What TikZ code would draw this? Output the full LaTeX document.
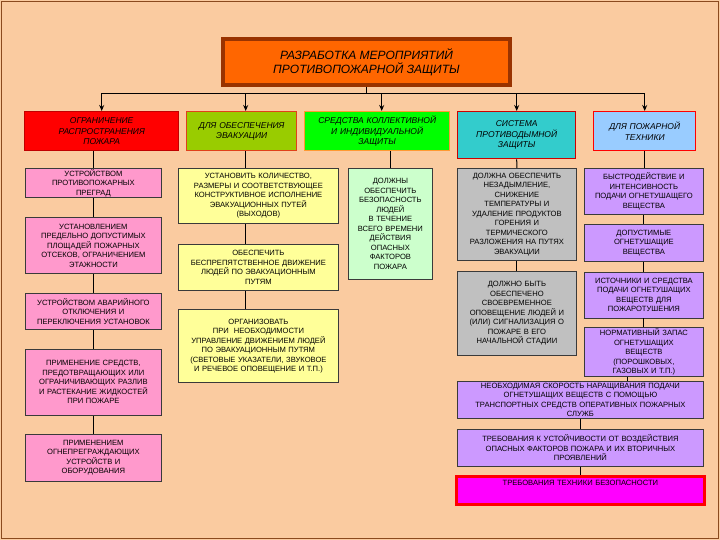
\documentclass[tikz,border=0pt]{standalone}
\usepackage{fontspec}
\setmainfont{Liberation Sans}
\usetikzlibrary{arrows.meta,positioning}
\definecolor{Peach}{HTML}{FACBA0}
\definecolor{Frame}{HTML}{8A4A1E}
\definecolor{TitleFill}{HTML}{FF6600}
\definecolor{TitleEdge}{HTML}{993300}
\definecolor{RedFill}{HTML}{FF0000}
\definecolor{RedEdge}{HTML}{C00000}
\definecolor{OliveFill}{HTML}{99CC00}
\definecolor{OliveEdge}{HTML}{E0401A}
\definecolor{LimeFill}{HTML}{00FF00}
\definecolor{LimeEdge}{HTML}{FF9933}
\definecolor{TealFill}{HTML}{33CCCC}
\definecolor{TealEdge}{HTML}{CC0000}
\definecolor{SkyFill}{HTML}{99CCFF}
\definecolor{SkyEdge}{HTML}{FF0000}
\definecolor{Pink}{HTML}{FF99CC}
\definecolor{Lemon}{HTML}{FFFF99}
\definecolor{Mint}{HTML}{CCFFCC}
\definecolor{Silver}{HTML}{C0C0C0}
\definecolor{Lilac}{HTML}{CC99FF}
\definecolor{Magenta}{HTML}{FF00FF}
\definecolor{Edge}{HTML}{3A3A3A}
\tikzset{
  topbox/.style={draw=TitleEdge, line width=4pt, fill=TitleFill, align=center,
    font=\fontsize{12}{14.5}\selectfont\itshape},
  catbox/.style 2 args={draw=#2, line width=1.4pt, fill=#1, align=center,
    inner sep=2pt, anchor=north west, font=\fontsize{8.5}{10.5}\selectfont\itshape},
  itembox/.style={draw=Edge, line width=0.8pt, fill=#1, align=center,
    inner xsep=2pt, inner ysep=1pt, font=\fontsize{7.6}{9.5}\selectfont},
  itembox/.default={white},
  link/.style={draw=black, line width=1pt},
  busarr/.style={draw=black, -{Stealth[length=6pt,width=5pt]}, line width=1pt},
}
\begin{document}
\begin{tikzpicture}[x=1pt, y=-1pt]
  \useasboundingbox (0,0) rectangle (720,540);
  \fill[Peach] (0,0) rectangle (720,540);
  \draw[Frame, line width=1.5pt] (1.5,1.5) rectangle (718.5,538.5);

  % title
  \node[topbox, minimum width=287pt, minimum height=46pt, anchor=north west]
    (razr) at (221,37.5) {РАЗРАБОТКА МЕРОПРИЯТИЙ\\ПРОТИВОПОЖАРНОЙ ЗАЩИТЫ};

  % first level
  \node[catbox={RedFill}{RedEdge}, text width=150pt, minimum height=39pt]
    (ogr) at (24,111) {ОГРАНИЧЕНИЕ\\РАСПРОСТРАНЕНИЯ\\ПОЖАРА};
  \node[catbox={OliveFill}{OliveEdge}, text width=106pt, minimum height=39pt]
    (evak) at (186,111) {ДЛЯ ОБЕСПЕЧЕНИЯ\\ЭВАКУАЦИИ};
  \node[catbox={LimeFill}{LimeEdge}, text width=141pt, minimum height=39pt]
    (sredst) at (304,111) {СРЕДСТВА КОЛЛЕКТИВНОЙ\\И ИНДИВИДУАЛЬНОЙ\\ЗАЩИТЫ};
  \node[catbox={TealFill}{TealEdge}, text width=114pt, minimum height=47pt]
    (dym) at (457,111) {СИСТЕМА\\ПРОТИВОДЫМНОЙ\\ЗАЩИТЫ};
  \node[catbox={SkyFill}{SkyEdge}, text width=98pt, minimum height=39pt]
    (tekh) at (593,111) {ДЛЯ ПОЖАРНОЙ\\ТЕХНИКИ};

  % column 1
  \node[itembox=Pink, text width=132pt, minimum height=27pt, anchor=north west]
    (ogr1) at (25,168) {УСТРОЙСТВОМ\\ПРОТИВОПОЖАРНЫХ\\ПРЕГРАД};
  \node[itembox=Pink, text width=132pt, minimum height=56pt, below=19pt of ogr1]
    (ogr2) {УСТАНОВЛЕНИЕМ\\ПРЕДЕЛЬНО ДОПУСТИМЫХ\\ПЛОЩАДЕЙ ПОЖАРНЫХ\\ОТСЕКОВ, ОГРАНИЧЕНИЕМ\\ЭТАЖНОСТИ};
  \node[itembox=Pink, text width=132pt, minimum height=36pt, below=19pt of ogr2]
    (ogr3) {УСТРОЙСТВОМ АВАРИЙНОГО\\ОТКЛЮЧЕНИЯ И\\ПЕРЕКЛЮЧЕНИЯ УСТАНОВОК};
  \node[itembox=Pink, text width=132pt, minimum height=66pt, below=19pt of ogr3]
    (ogr4) {ПРИМЕНЕНИЕ СРЕДСТВ,\\ПРЕДОТВРАЩАЮЩИХ ИЛИ\\ОГРАНИЧИВАЮЩИХ РАЗЛИВ\\И РАСТЕКАНИЕ ЖИДКОСТЕЙ\\ПРИ ПОЖАРЕ};
  \node[itembox=Pink, text width=132pt, minimum height=47pt, below=18pt of ogr4]
    (ogr5) {ПРИМЕНЕНИЕМ\\ОГНЕПРЕГРАЖДАЮЩИХ\\УСТРОЙСТВ И\\ОБОРУДОВАНИЯ};

  % column 2
  \node[itembox=Lemon, text width=156pt, minimum height=55pt, anchor=north west]
    (evak1) at (178,168) {УСТАНОВИТЬ КОЛИЧЕСТВО,\\РАЗМЕРЫ И СООТВЕТСТВУЮЩЕЕ\\КОНСТРУКТИВНОЕ ИСПОЛНЕНИЕ\\ЭВАКУАЦИОННЫХ ПУТЕЙ\\(ВЫХОДОВ)};
  \node[itembox=Lemon, text width=156pt, minimum height=46pt, below=20pt of evak1]
    (evak2) {ОБЕСПЕЧИТЬ\\БЕСПРЕПЯТСТВЕННОЕ ДВИЖЕНИЕ\\ЛЮДЕЙ ПО ЭВАКУАЦИОННЫМ\\ПУТЯМ};
  \node[itembox=Lemon, text width=156pt, minimum height=73pt, below=18.5pt of evak2]
    (evak3) {ОРГАНИЗОВАТЬ\\ПРИ\ \ НЕОБХОДИМОСТИ\\УПРАВЛЕНИЕ ДВИЖЕНИЕМ ЛЮДЕЙ\\ПО ЭВАКУАЦИОННЫМ ПУТЯМ\\(СВЕТОВЫЕ УКАЗАТЕЛИ, ЗВУКОВОЕ\\И РЕЧЕВОЕ ОПОВЕЩЕНИЕ И Т.П.)};

  % column 3
  \node[itembox=Mint, text width=80pt, minimum height=111pt, anchor=north west]
    (sredst1) at (348,168) {ДОЛЖНЫ\\ОБЕСПЕЧИТЬ\\БЕЗОПАСНОСТЬ\\ЛЮДЕЙ\\В ТЕЧЕНИЕ\\ВСЕГО ВРЕМЕНИ\\ДЕЙСТВИЯ\\ОПАСНЫХ\\ФАКТОРОВ\\ПОЖАРА};

  % column 4
  \node[itembox=Silver, text width=115pt, minimum height=92pt, anchor=north west]
    (dym1) at (457,168) {ДОЛЖНА ОБЕСПЕЧИТЬ\\НЕЗАДЫМЛЕНИЕ,\\СНИЖЕНИЕ\\ТЕМПЕРАТУРЫ И\\УДАЛЕНИЕ ПРОДУКТОВ\\ГОРЕНИЯ И\\ТЕРМИЧЕСКОГО\\РАЗЛОЖЕНИЯ НА ПУТЯХ\\ЭВАКУАЦИИ};
  \node[itembox=Silver, text width=115pt, minimum height=84pt, below=10pt of dym1]
    (dym2) {ДОЛЖНО БЫТЬ\\ОБЕСПЕЧЕНО\\СВОЕВРЕМЕННОЕ\\ОПОВЕЩЕНИЕ ЛЮДЕЙ И\\(ИЛИ) СИГНАЛИЗАЦИЯ О\\ПОЖАРЕ В ЕГО\\НАЧАЛЬНОЙ СТАДИИ};

  % column 5
  \node[itembox=Lilac, text width=115pt, minimum height=46pt, anchor=north west]
    (tekh1) at (584,168) {БЫСТРОДЕЙСТВИЕ И\\ИНТЕНСИВНОСТЬ\\ПОДАЧИ ОГНЕТУШАЩЕГО\\ВЕЩЕСТВА};
  \node[itembox=Lilac, text width=115pt, minimum height=37pt, below=9pt of tekh1]
    (tekh2) {ДОПУСТИМЫЕ\\ОГНЕТУШАЩИЕ\\ВЕЩЕСТВА};
  \node[itembox=Lilac, text width=115pt, minimum height=46pt, below=10pt of tekh2]
    (tekh3) {ИСТОЧНИКИ И СРЕДСТВА\\ПОДАЧИ ОГНЕТУШАЩИХ\\ВЕЩЕСТВ ДЛЯ\\ПОЖАРОТУШЕНИЯ};
  \node[itembox=Lilac, text width=115pt, minimum height=47pt, below=9pt of tekh3]
    (tekh4) {НОРМАТИВНЫЙ ЗАПАС\\ОГНЕТУШАЩИХ\\ВЕЩЕСТВ\\(ПОРОШКОВЫХ,\\ГАЗОВЫХ И Т.П.)};
  \node[itembox=Lilac, text width=242pt, minimum height=37pt, anchor=north west]
    (tekh5) at (457,381) {НЕОБХОДИМАЯ СКОРОСТЬ НАРАЩИВАНИЯ ПОДАЧИ\\ОГНЕТУШАЩИХ ВЕЩЕСТВ С ПОМОЩЬЮ\\ТРАНСПОРТНЫХ СРЕДСТВ ОПЕРАТИВНЫХ ПОЖАРНЫХ\\СЛУЖБ};
  \node[itembox=Lilac, text width=242pt, minimum height=37pt, below=10pt of tekh5]
    (tekh6) {ТРЕБОВАНИЯ К УСТОЙЧИВОСТИ ОТ ВОЗДЕЙСТВИЯ\\ОПАСНЫХ ФАКТОРОВ ПОЖАРА И ИХ ВТОРИЧНЫХ\\ПРОЯВЛЕНИЙ};
  \node[itembox=Magenta, draw=SkyEdge, line width=3pt, text width=244pt,
    text height=6pt, text depth=16pt, inner ysep=3pt, below=8pt of tekh6]
    (tekh7) {ТРЕБОВАНИЯ ТЕХНИКИ БЕЗОПАСНОСТИ};

  % bus with arrows
  \coordinate (busL) at (101,93.5);
  \coordinate (busR) at (644,93.5);
  \draw[link] (razr.south) -- (razr.south |- busL);
  \draw[link] (busL) -- (busR);
  \foreach \n/\dx in {ogr/0,evak/4,sredst/4.5,dym/0,tekh/0}
    \draw[busarr] ([xshift=\dx pt]\n.north |- busL) -- ([xshift=\dx pt]\n.north);

  % column links
  \draw[link] (ogr1.north) -- (ogr1.north |- ogr.south);
  \foreach \a/\b in {ogr1/ogr2,ogr2/ogr3,ogr3/ogr4,ogr4/ogr5}
    \draw[link] (\a) -- (\b);
  \draw[link] ([xshift=4pt]evak.south) -- ([xshift=4pt]evak.south |- evak1.north);
  \draw[link] ([xshift=4pt]evak1.south -| evak.south) -- ([xshift=4pt]evak2.north -| evak.south);
  \draw[link] ([xshift=4pt]evak2.south -| evak.south) -- ([xshift=4pt]evak3.north -| evak.south);
  \draw[link] (sredst1.north) -- (sredst1.north |- sredst.south);
  \draw[link] (dym.south) -- (dym1.north);
  \draw[link] (dym1) -- (dym2);
  \draw[link] (tekh.south) -- (tekh.south |- tekh1.north);
  \foreach \a/\b in {tekh1/tekh2,tekh2/tekh3,tekh3/tekh4}
    \draw[link] (\a) -- (\b);
  \draw[link] ([xshift=-16pt]tekh4.south) -- ([xshift=-16pt]tekh4.south |- tekh5.north);
  \draw[link] (tekh5.south) -- (tekh5.south |- tekh6.north);
  \draw[link] (tekh6.south) -- (tekh6.south |- tekh7.north);
\end{tikzpicture}
\end{document}
